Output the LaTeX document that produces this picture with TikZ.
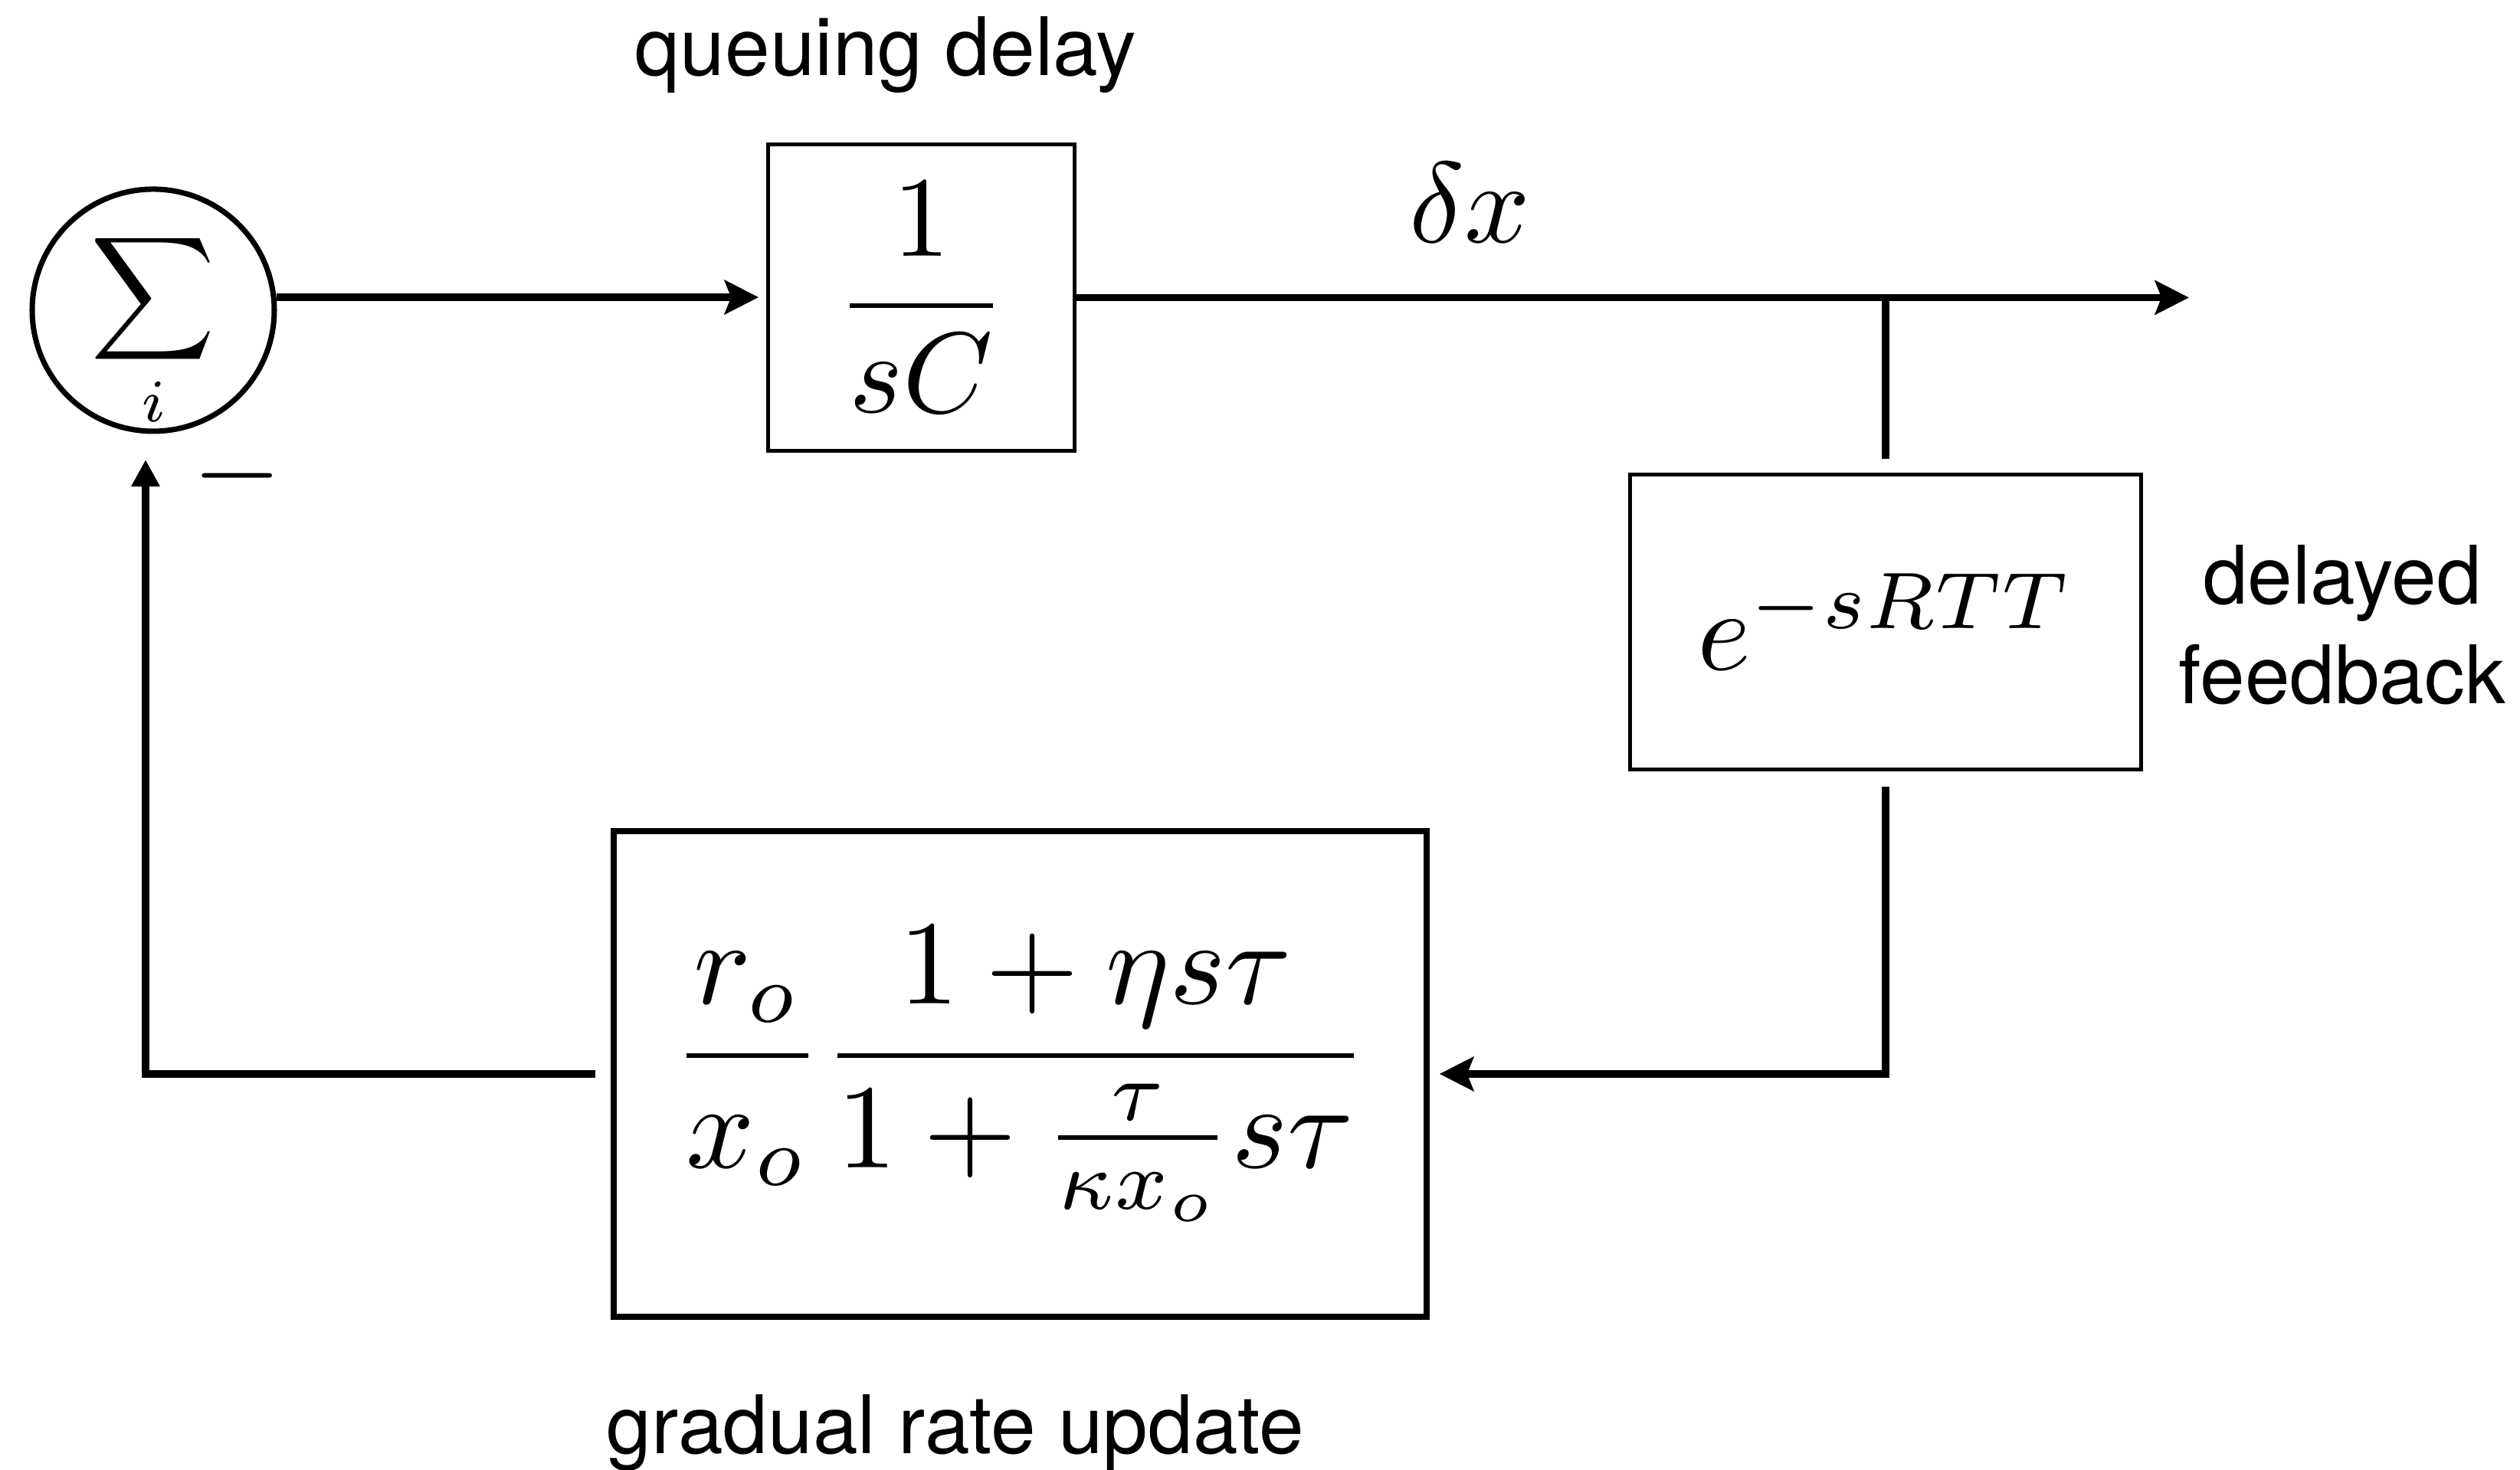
\documentclass[tikz,border=0pt]{standalone}
\usepackage{amsmath}
\usepackage{fontspec}
\newfontfamily\etichetta{TeX Gyre Heros}
\usetikzlibrary{arrows.meta}
% formula composta a 10pt e ingrandita
\newcommand{\grande}[2][2.13]{\scalebox{#1}{$#2$}}

\begin{document}
\begin{tikzpicture}[>={Stealth[length=6.3pt, width=6.3pt, inset=1.2pt]},
        blocco/.style={draw, rectangle, line width=0.7pt, inner sep=0pt},
        linea/.style={line width=1.35pt},
        testo/.style={font=\etichetta\fontsize{15}{18.5}\selectfont, inner sep=0pt}]
        % Cornice
        \useasboundingbox (0,0) rectangle (16.445,9.595);

        % Blocchi
        \node[draw, circle, line width=1pt, minimum size=1.58cm, inner sep=0pt] (somma) at (1.0,7.57) {\raisebox{-3.7pt}[\height][\depth]{\grande[1.6]{\displaystyle\sum_i}}};
        \node[blocco, minimum size=2.0cm] (sC) at (6.0125,7.6525) {\grande{\dfrac{1}{sC}}};
        \node[blocco, minimum width=3.335cm, minimum height=1.925cm] (ritardo) at (12.305,5.535) {\grande{e^{-sRTT}}};
        \node[blocco, line width=1.1pt, minimum width=5.305cm, minimum height=3.17cm] (aggiorna) at (6.6575,2.585) {\grande[2.23]{\dfrac{r_o}{x_o}\dfrac{1+\eta s\tau}{1+\frac{\tau}{\kappa x_o}s\tau}}};

        % Etichette
        \node[testo, anchor=base] (lcoda) at (5.78,9.10) {queuing delay};
        \node[anchor=base, inner sep=0pt] (ldx) at (9.59,8.01) {\grande{\delta x}};
        \node[testo, anchor=north, align=center] (lfb) at (15.285,6.045) {delayed\\feedback};
        \node[testo, anchor=base] (lrate) at (6.235,0.105) {gradual rate update};
        \node[anchor=base, inner sep=0pt] (meno) at (1.55,6.30) {\grande{-}};

        % Coordinate
        \coordinate (uscita) at (14.285,7.6525); % fine della linea principale

        % Collegamenti
        \draw[linea, ->, shorten >=1.42pt] (somma.6) -- (somma.6 -| sC.west);
        \draw[linea, ->] (sC.east) -- (uscita);
        \draw[linea, shorten >=2.56pt] (sC.east -| ritardo.north) -- (ritardo.north);
        \draw[linea, ->, shorten <=2.85pt, shorten >=1.85pt] (ritardo.south) |- (aggiorna.east);
        \draw[linea, -{Triangle[length=5pt, width=5pt]}, shorten <=2.85pt, shorten >=4.77pt] (aggiorna.west) -| ([xshift=-1.42pt]somma.south);
    \end{tikzpicture}
\end{document}
